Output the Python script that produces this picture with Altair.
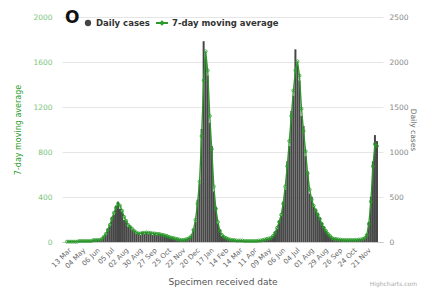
import json
import altair as alt
import pandas as pd

# ---- data (one value every 4 days of the category axis) ----
tick_labels = ["13 Mar", "04 May", "06 Jun", "05 Jul", "02 Aug", "30 Aug", "27 Sep",
               "25 Oct", "22 Nov", "20 Dec", "17 Jan", "14 Feb", "14 Mar", "11 Apr",
               "09 May", "06 Jun", "04 Jul", "01 Aug", "29 Aug", "26 Sep", "24 Oct", "21 Nov"]

daily_cases = [3, 2, 6, 3, 2, 4, 11, 9, 13, 10, 11, 12, 9,
               22, 18, 27, 22, 36,
               62, 78, 146, 179, 280, 303, 404, 448, 370, 336, 247, 235, 168, 179, 135, 123, 90, 101,
               78, 112, 90, 112, 90, 101, 78, 101, 78, 90, 78, 78, 67, 67, 56, 45, 45, 34, 34, 28,
               22, 22, 34, 34, 45, 67,
               146, 224, 471, 650, 1256, 2231, 2040, 1850, 1323, 1065, 561, 392, 202, 135, 67, 56, 45, 34, 28,
               22, 22, 17, 17, 17, 17, 11, 11, 11, 11, 11, 11, 11, 17, 17, 22, 28, 34,
               39, 45, 67, 112, 146, 235, 291, 448, 583, 897, 1065, 1457, 1625, 2141, 1962, 1794, 1401, 1289,
               953, 785, 538, 504, 392, 370, 325, 269, 213, 168, 123, 90, 67, 45,
               34, 34, 28, 28, 22, 22, 22, 22, 22, 22, 22, 22, 28, 28, 34, 45,
               90, 224, 504, 897, 1188, 1121]

moving_avg = [3, 3, 3, 3, 3, 3,
              9, 9, 9, 9, 9, 9, 9,
              18, 18, 18, 18,
              27, 45, 72, 108, 152, 206, 260, 305, 341, 323, 278, 224, 188, 152, 135, 117, 99, 85, 76,
              76, 81, 81, 85, 81, 81, 76, 76, 72, 72, 67, 63, 58, 54, 45, 40, 36, 31, 27, 22,
              18, 18, 22, 27, 36, 54, 108, 197, 341, 538, 942, 1435, 1695, 1525, 1121, 825, 493, 296,
              179, 99, 63, 45, 36, 27, 22,
              18, 18, 13, 13, 13, 13, 9, 9, 9, 9, 9, 9, 9, 13, 13, 18, 22, 27,
              31, 36, 54, 81, 126, 179, 242, 341, 493, 673, 897, 1121, 1346, 1525, 1606, 1480, 1184, 987,
              807, 610, 466, 377, 323, 278, 242, 206, 161, 126, 99, 72, 54, 36,
              27, 27, 22, 22, 18, 18, 18, 18, 18, 18, 18, 18, 22, 22, 27, 36,
              63, 161, 359, 673, 870, 852]

step_days = 4
label_every = 28

df = pd.DataFrame({
    "idx": [i * step_days for i in range(len(daily_cases))],
    "daily": daily_cases,
    "avg": moving_avg,
})

FONT = "DejaVu Sans"
GREEN = "#2a9a2a"
label_expr = json.dumps(tick_labels) + "[round(datum.value / %d)]" % label_every
tick_vals = [i * label_every for i in range(len(tick_labels))]

x_enc = alt.X("idx:Q",
              scale=alt.Scale(domain=[0, 610], nice=False, zero=False),
              axis=alt.Axis(values=tick_vals, labelExpr=label_expr, labelAngle=-45,
                            labelOverlap=False, labelBound=False,
                            title="Specimen received date", titleFont=FONT, titleFontSize=9,
                            titleFontWeight="normal", titleColor="#555555", titlePadding=8,
                            labelFont=FONT, labelFontSize=7, labelColor="#666666",
                            domainColor="#c8c8c8", ticks=False, grid=False, labelPadding=4))

bars = alt.Chart(df).mark_bar(color="#474747", size=2.0).encode(
    x=x_enc,
    y=alt.Y("daily:Q",
            scale=alt.Scale(domain=[0, 2500], nice=False),
            axis=alt.Axis(orient="right", values=[0, 500, 1000, 1500, 2000, 2500], format="d",
                          title="Daily cases", titleFont=FONT, titleFontSize=7.5,
                          titleFontWeight="normal", titleColor="#666666", titlePadding=0,
                          labelFont=FONT, labelFontSize=7.5, labelColor="#888888",
                          domain=False, ticks=False, grid=False, labelPadding=6)),
)

line = alt.Chart(df).mark_line(
    color=GREEN, strokeWidth=1.3,
    point=alt.OverlayMarkDef(shape="circle", filled=False, size=9, color=GREEN, strokeWidth=0.8),
).encode(
    x=x_enc,
    y=alt.Y("avg:Q",
            scale=alt.Scale(domain=[0, 2000], nice=False),
            axis=alt.Axis(orient="left", values=[0, 400, 800, 1200, 1600, 2000], format="d",
                          title="7-day moving average", titleFont=FONT, titleFontSize=8,
                          titleFontWeight="normal", titleColor=GREEN, titlePadding=10,
                          labelFont=FONT, labelFontSize=7.5, labelColor="#7cc47c",
                          domain=False, ticks=False, grid=True, gridColor="#e6e6e6",
                          labelPadding=10)),
)

one = pd.DataFrame({"a": [0]})
legend_dot = alt.Chart(one).mark_point(shape="circle", filled=True, size=40, color="#444444",
                                       opacity=1).encode(x=alt.value(26), y=alt.value(6))
legend_t1 = alt.Chart(one).mark_text(text="Daily cases", font=FONT, fontSize=8.5, fontWeight="bold",
                                     align="left", baseline="middle", color="#333333").encode(
    x=alt.value(34), y=alt.value(6))
legend_line = alt.Chart(one).mark_rule(color=GREEN, strokeWidth=2).encode(
    x=alt.value(94), x2=alt.value(106), y=alt.value(6))
legend_dia = alt.Chart(one).mark_point(shape="diamond", filled=True, size=30, color=GREEN,
                                       opacity=1).encode(x=alt.value(100), y=alt.value(6))
legend_t2 = alt.Chart(one).mark_text(text="7-day moving average", font=FONT, fontSize=8.5,
                                     fontWeight="bold", align="left", baseline="middle",
                                     color="#333333").encode(x=alt.value(110), y=alt.value(6))
big_o = alt.Chart(one).mark_text(text="O", font=FONT, fontSize=17, fontWeight="bold",
                                 align="left", baseline="middle", color="#111111").encode(
    x=alt.value(3), y=alt.value(1))
credits = alt.Chart(one).mark_text(text="Highcharts.com", font=FONT, fontSize=6,
                                   align="right", baseline="bottom", color="#aaaaaa").encode(
    x=alt.value(355), y=alt.value(270))

chart = alt.layer(bars, line, legend_dot, legend_t1, legend_line, legend_dia, legend_t2,
                  big_o, credits).resolve_scale(y="independent").properties(
    width=321, height=225,
    autosize=alt.AutoSizeParams(type="none"),
    padding={"left": 54, "top": 9, "right": 37, "bottom": 49},
    background="white",
).configure_view(stroke=None).configure_axisX(labelOverlap=False)

chart.save("out.html", embed_options={"renderer": "svg", "actions": False})
